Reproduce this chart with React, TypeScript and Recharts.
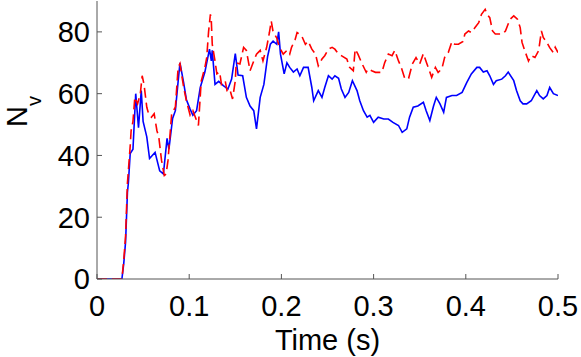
import React from 'react';
import { LineChart, Line, XAxis, YAxis } from 'recharts';

const xTicks = [0, 0.1, 0.2, 0.3, 0.4, 0.5];
const yTicks = [0, 20, 40, 60, 80];

const blueTime = [
  0, 0.026, 0.027, 0.029, 0.031, 0.032, 0.033, 0.034, 0.036, 0.039, 0.042, 0.045, 0.048, 0.05, 0.054,
  0.057, 0.063, 0.068, 0.072, 0.076, 0.078, 0.082, 0.085, 0.088, 0.09, 0.094, 0.097, 0.101, 0.104,
  0.108, 0.112, 0.117, 0.122, 0.124, 0.125, 0.128, 0.132, 0.137, 0.142, 0.146, 0.15, 0.153, 0.158,
  0.162, 0.166, 0.17, 0.173, 0.177, 0.181, 0.185, 0.188, 0.191, 0.195, 0.197, 0.199, 0.203, 0.206,
  0.209, 0.213, 0.217, 0.22, 0.224, 0.229, 0.233, 0.235, 0.24, 0.244, 0.247, 0.251, 0.255, 0.258,
  0.262, 0.265, 0.269, 0.273, 0.277, 0.282, 0.285, 0.289, 0.293, 0.296, 0.3, 0.305, 0.311, 0.316,
  0.321, 0.327, 0.331, 0.336, 0.339, 0.343, 0.348, 0.354, 0.357, 0.361, 0.365, 0.368, 0.372, 0.376,
  0.379, 0.385, 0.39, 0.396, 0.401, 0.406, 0.412, 0.415, 0.419, 0.423, 0.426, 0.43, 0.433, 0.439,
  0.443, 0.446, 0.452, 0.455, 0.459, 0.462, 0.466, 0.471, 0.477, 0.48, 0.484, 0.488, 0.491, 0.495, 0.5,
];
const blueValues = [
  0, 0, 0, 5, 12, 20, 28, 31, 40.6, 42, 60, 49, 61, 51, 46,
  39, 41, 35, 34, 45.5, 42, 52, 54.5, 64, 70, 63.5, 58, 55, 53,
  54.5, 62, 67, 74.4, 70.6, 74, 63, 64, 62.6, 61.5, 64.7, 73, 66, 65.8,
  58.8, 56, 54.5, 48.6, 58.8, 63, 72, 76, 77, 76, 80, 72.8, 66.4, 70,
  68.5, 67, 68, 65.8, 68.5, 68.5, 62, 57.7, 61, 58.8, 62, 65.8, 64.7, 65.8,
  65, 61.5, 58.8, 60.4, 64.2, 61, 57.7, 54.5, 52.4, 53, 50.7, 52.4, 51.8, 51.8,
  50.7, 49.7, 47.5, 48.6, 52.4, 55.6, 56, 57.2, 54.5, 51.3, 56, 58.8, 56.7, 54,
  58.8, 59.4, 59.4, 60.4, 63.6, 66.4, 68.5, 68.5, 67, 67.4, 65.8, 63, 64.2, 64.7,
  65.8, 67, 64.2, 61, 57.7, 56.7, 56.7, 57.7, 61, 59.4, 58.3, 59.4, 62, 60, 59.4,
];

const redTime = [
  0, 0.026, 0.027, 0.029, 0.031, 0.033, 0.036, 0.037, 0.039, 0.041, 0.044, 0.047, 0.049, 0.051, 0.054,
  0.056, 0.059, 0.062, 0.065, 0.067, 0.07, 0.073, 0.075, 0.077, 0.081, 0.085, 0.088, 0.09, 0.094,
  0.097, 0.101, 0.104, 0.11, 0.113, 0.117, 0.119, 0.121, 0.123, 0.124, 0.125, 0.128, 0.13, 0.133,
  0.135, 0.139, 0.141, 0.144, 0.147, 0.15, 0.151, 0.155, 0.159, 0.162, 0.166, 0.17, 0.173, 0.177,
  0.18, 0.184, 0.187, 0.189, 0.191, 0.195, 0.198, 0.202, 0.206, 0.209, 0.211, 0.215, 0.217, 0.222,
  0.226, 0.229, 0.233, 0.237, 0.24, 0.244, 0.247, 0.251, 0.255, 0.258, 0.262, 0.265, 0.271, 0.274,
  0.278, 0.28, 0.283, 0.287, 0.292, 0.294, 0.298, 0.302, 0.305, 0.309, 0.312, 0.316, 0.32, 0.323,
  0.327, 0.33, 0.334, 0.338, 0.342, 0.346, 0.35, 0.354, 0.358, 0.361, 0.363, 0.367, 0.37, 0.374,
  0.377, 0.381, 0.385, 0.388, 0.392, 0.397, 0.399, 0.403, 0.406, 0.41, 0.414, 0.417, 0.421, 0.423,
  0.426, 0.429, 0.432, 0.435, 0.44, 0.443, 0.448, 0.452, 0.456, 0.459, 0.461, 0.464, 0.468, 0.471,
  0.475, 0.479, 0.482, 0.484, 0.488, 0.491, 0.495, 0.497, 0.5,
];
const redValues = [
  0, 0, 0, 6, 14, 31, 43, 48, 51, 58.8, 56.7, 60, 65.8, 63, 55.6,
  53.5, 52.4, 53.5, 48, 46, 38.4, 33.5, 34, 38.4, 53.5, 55.6, 68.5, 69.7, 62,
  57.7, 53, 54.5, 49.7, 64, 68.5, 71.7, 80, 85.7, 83.5, 76, 70.6, 66.4, 67,
  63, 64.2, 61, 61.5, 58.3, 64.2, 70, 69.6, 75, 74, 67.4, 70.6, 72.8, 74,
  70.6, 75, 79.8, 83.5, 80, 78, 75, 72.8, 74, 72.8, 75, 77.6, 79.8, 78.7,
  76, 77, 74.4, 72.8, 69, 71.2, 72.3, 74.4, 75, 74.4, 72.8, 72.3, 71.2, 68.5,
  67.4, 74.4, 72.8, 70, 66.9, 68, 67.4, 66.9, 66.9, 66.9, 70, 72.8, 72.3, 74,
  70.6, 68.5, 64.7, 65, 69.6, 71.7, 69.6, 73, 69.5, 67, 65.3, 68.5, 66.9, 68,
  71.7, 73.3, 76.9, 76, 76, 76.9, 79.3, 80.3, 79.8, 81.4, 83, 85.7, 87.3, 85.7,
  84.6, 80.3, 79.3, 79.3, 79.3, 80.3, 84.1, 85.2, 84.1, 81.4, 76.6, 73.9, 70.6, 72.3,
  71.7, 73.9, 80.3, 78.2, 76.6, 74.9, 73.3, 75, 73.3,
];

const blueData = blueTime.map((t, i) => ({ t, v: blueValues[i] }));
const redData = redTime.map((t, i) => ({ t, v: redValues[i] }));

const FONT = '"Liberation Sans", Arial, Helvetica, sans-serif';
const AXIS = '#555555';

const YLabel = (props: any) => {
  const { viewBox } = props;
  const x = viewBox.x + 27;
  const y = viewBox.y + 126;
  return (
    <text x={x} y={y} transform={`rotate(-90, ${x}, ${y})`} fontFamily={FONT} fontSize={29} fill="#000">
      N
      <tspan fontSize={20} dy={14}>v</tspan>
    </text>
  );
};

const XLabel = (props: any) => {
  const { viewBox } = props;
  return (
    <text
      x={viewBox.x + viewBox.width / 2}
      y={viewBox.y + 71}
      textAnchor="middle"
      fontFamily={FONT}
      fontSize={29}
      fill="#000"
    >
      Time (s)
    </text>
  );
};

export default function App() {
  return (
    <div style={{ position: 'absolute', left: 0, top: 0, width: 581, height: 357, background: '#fff' }}>
      <LineChart width={581} height={357} margin={{ top: 1, right: 23, bottom: 0, left: 0 }}>
        <XAxis
          dataKey="t"
          type="number"
          domain={[0, 0.5]}
          ticks={xTicks}
          allowDataOverflow
          height={78}
          stroke={AXIS}
          tickSize={-5}
          tickMargin={21}
          tick={{ fill: '#000', fontSize: 29, fontFamily: FONT }}
          label={{ content: <XLabel /> }}
        />
        <YAxis
          type="number"
          domain={[0, 90]}
          ticks={yTicks}
          allowDataOverflow
          width={97}
          stroke={AXIS}
          tickSize={-5}
          tickMargin={12}
          tick={{ fill: '#000', fontSize: 29, fontFamily: FONT }}
          label={{ content: <YLabel /> }}
        />
        <Line
          data={blueData}
          dataKey="v"
          type="linear"
          stroke="#0000ff"
          strokeWidth={1.6}
          dot={false}
          isAnimationActive={false}
        />
        <Line
          data={redData}
          dataKey="v"
          type="linear"
          stroke="#ff0000"
          strokeWidth={1.6}
          strokeDasharray="10 5"
          dot={false}
          isAnimationActive={false}
        />
      </LineChart>
    </div>
  );
}
